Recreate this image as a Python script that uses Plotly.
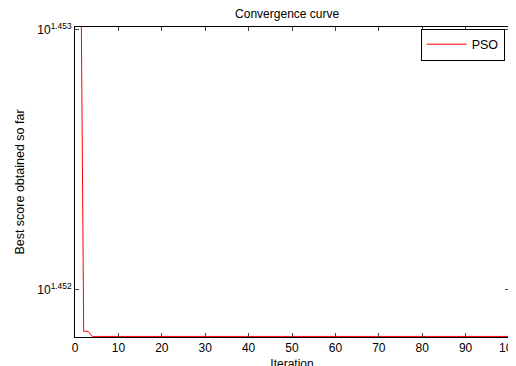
import plotly.graph_objects as go

iterations = list(range(1, 101))
best_scores = [28.446, 28.3035, 28.3035] + [28.3022] * 97
ytick_vals = [28.3139, 28.3792]
ytick_text = ["10<sup>1.452</sup>", "10<sup>1.453</sup>"]
xtick_vals = [0, 10, 20, 30, 40, 50, 60, 70, 80, 90, 100]

fig = go.Figure()
fig.add_trace(go.Scatter(x=iterations, y=best_scores, mode="lines", name="PSO",
                         line=dict(color="#ff0000", width=1)))

font = dict(family="Liberation Sans, Arial, sans-serif", size=12, color="black")
fig.update_layout(
    width=516, height=366,
    margin=dict(l=67, r=15, t=19, b=37, autoexpand=False),
    paper_bgcolor="white", plot_bgcolor="white",
    font=font,
    title=dict(text="Convergence curve", x=0.541, xanchor="center", y=0.995, yanchor="top",
               font=dict(size=12, color="black")),
    showlegend=True,
    legend=dict(x=0.99, y=0.995, xanchor="right", yanchor="top",
                bordercolor="black", borderwidth=1, bgcolor="white",
                font=dict(size=12.5), itemwidth=40, tracegroupgap=0),
)
fig.update_xaxes(range=[0, 100], tickvals=xtick_vals, ticks="inside", ticklen=4,
                 showline=True, linecolor="black", linewidth=1, mirror="ticks",
                 showgrid=False, zeroline=False, automargin=False,
                 ticklabeloverflow="allow",
                 title=dict(text="Iteration", standoff=5, font=dict(size=12)))
fig.update_yaxes(type="log", range=[1.451818, 1.45301], tickvals=ytick_vals, ticktext=ytick_text,
                 ticks="inside", ticklen=4,
                 showline=True, linecolor="black", linewidth=1, mirror="ticks",
                 showgrid=False, zeroline=False, automargin=False,
                 title=dict(text="Best score obtained so far", standoff=9, font=dict(size=12.5)))

fig.write_html("out.html")
